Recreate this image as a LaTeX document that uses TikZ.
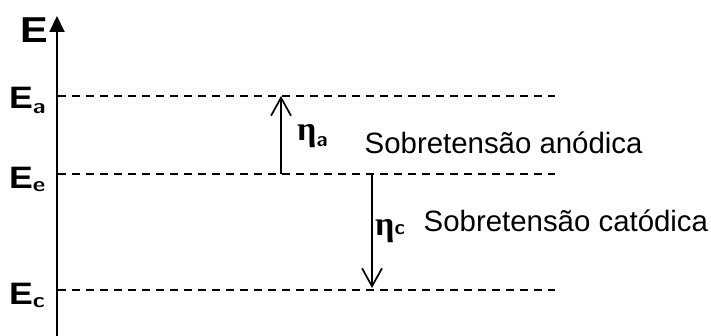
\documentclass[tikz,border=0pt]{standalone}
\usepackage{fontspec}
\setmainfont{Liberation Sans}
\newfontfamily\etafont{Liberation Serif}
\usetikzlibrary{arrows.meta}

\begin{document}
\begin{tikzpicture}[x=1pt,y=-1pt,
  level/.style={line width=1.7pt, dash pattern=on 8pt off 6pt},
  axis/.style={line width=2pt,-{Triangle[length=16pt,width=15pt]}},
  overpot/.style={line width=1.7pt,-{Straight Barb[length=18pt,width=20pt]}},
  big/.style={inner sep=0pt, anchor=base west, font=\fontsize{36}{36}\selectfont\bfseries},
  elev/.style={inner sep=0pt, anchor=base west, font=\fontsize{31}{31}\selectfont\bfseries},
  note/.style={inner sep=0pt, anchor=base west, font=\fontsize{29.4}{29.4}\selectfont},
  eta/.style={inner sep=0pt, anchor=base west, font=\fontsize{34}{34}\selectfont\etafont\bfseries},
]
\useasboundingbox (0,0) rectangle (711,336);

% wide bold lettering of the axis labels
\newcommand{\wide}[1]{\scalebox{1.15}[1]{#1}}
\newcommand{\sublbl}[2]{{\fontsize{21}{21}\selectfont\sffamily\bfseries\raisebox{#1}{#2}}}

% energy axis
\coordinate (ax0) at (57,336);
\coordinate (ax1) at (57,16);
\draw[axis] (ax0) -- (ax1);
\node[big] (E) at (20,43) {\wide{E}};

% potential levels
\coordinate (a0) at (58,96);  \coordinate (a1) at (555,96);
\coordinate (e0) at (58,174); \coordinate (e1) at (555,174);
\coordinate (c0) at (58,290); \coordinate (c1) at (555,290);
\draw[level] (a0) -- (a1);
\draw[level] (e0) -- (e1);
\draw[level] (c0) -- (c1);

\node[elev] (Ea) at (9,109) {\wide{E\sublbl{-4.5pt}{a}}};
\node[elev] (Ee) at (9,189) {\wide{E\sublbl{-3pt}{e}}};
\node[elev] (Ec) at (9,304) {\wide{E\sublbl{-3pt}{c}}};

% anodic overpotential
\coordinate (ua0) at (281,174);
\coordinate (ua1) at (281,96);
\draw[overpot] (ua0) -- (ua1);
\node[eta] (etaa) at (297,141) {η\sublbl{-6pt}{a}};
\node[note] (an) at (364.5,154) {Sobretensão anódica};

% cathodic overpotential
\coordinate (dc0) at (372,174);
\coordinate (dc1) at (372,288);
\draw[overpot] (dc0) -- (dc1);
\node[eta] (etac) at (375,236) {η\sublbl{1pt}{c}};
\node[note] (ca) at (423.5,232) {Sobretensão catódica};
\end{tikzpicture}
\end{document}
